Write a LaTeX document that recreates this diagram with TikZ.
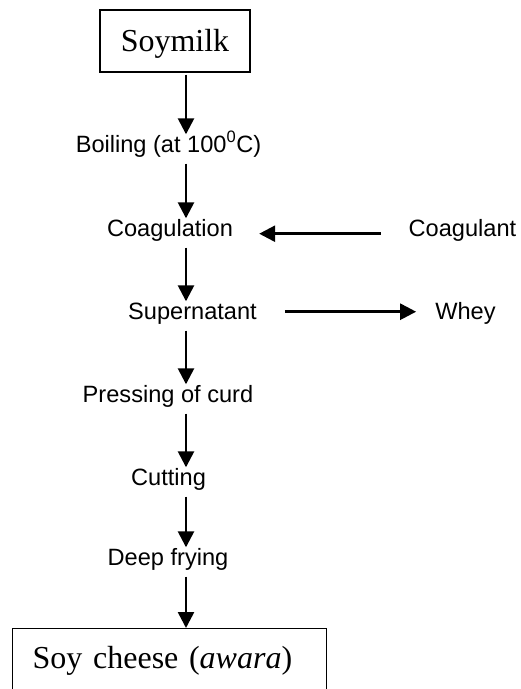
\documentclass[tikz,border=0pt]{standalone}
\usepackage{fontspec}
\setmainfont{Liberation Serif}
\newfontfamily\arialfont{Liberation Sans}
\usepackage{tikz}
\usetikzlibrary{positioning, arrows.meta}
\newcommand{\steptext}{\arialfont\fontsize{23.6}{28}\selectfont}
\newcommand{\boxtext}{\fontsize{32}{38}\selectfont}

\begin{document}
\begin{tikzpicture}[x=1pt, y=-1pt,
  stage/.style={inner sep=0pt, text height=17.5pt, text depth=9.5pt, anchor=base, font=\steptext},
  endbox/.style={draw, line width=1.4pt, font=\boxtext},
  flow/.style={-{Triangle[length=16pt, width=16pt]}, line width=2.6pt}]
\useasboundingbox (0,0) rectangle (521,689);
\coordinate (spine) at (186,0);
\node[endbox, minimum width=150pt, minimum height=62pt, text depth=2pt] (s0) at (175,41) {Soymilk};
\foreach \i/\x/\y/\txt in {1/168.5/152/Boiling (at 100\textsuperscript{0}C), 2/170/236/Coagulation, 3/192.5/319/Supernatant, 4/168/402/Pressing of curd, 5/168.5/485/Cutting, 6/168/565/Deep frying} {
  \node[stage] (s\i) at (\x,\y) {\txt};
}
\node[endbox, anchor=north west, inner xsep=20pt, inner ysep=0pt, text width=274pt, align=left, text height=40pt, text depth=40pt] (s7) at (12,628) {Soy cheese (\textit{awara})};
\node[stage] (cgt) at (462.5,236) {Coagulant};
\node[stage] (whey) at (465.5,319) {Whey};
\foreach \i in {0,...,6} {
  \pgfmathtruncatemacro{\j}{\i+1}
  \draw[flow, shorten <=2pt] (s\i.south -| spine) -- (s\j.north -| spine);
}
\draw[flow, shorten <=28pt, shorten >=26pt] (cgt.mid west) -- (s2.mid east);
\draw[flow, shorten <=28pt, shorten >=19pt] ([yshift=5pt]s3.mid east) -- ([yshift=5pt]whey.mid west);
\end{tikzpicture}
\end{document}
